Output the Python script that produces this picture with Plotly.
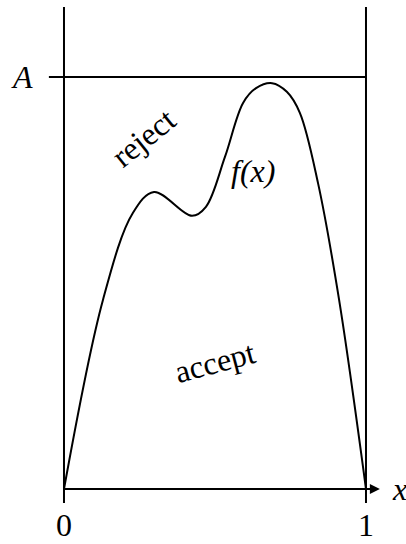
import plotly.graph_objects as go

# Target density f(x) sampled along [0, 1]
x_vals = [0.0, 0.129, 0.228, 0.298, 0.424, 0.470, 0.533, 0.593, 0.636, 0.689,
          0.738, 0.781, 0.841, 0.911, 1.0]
f_vals = [0.0, 0.459, 0.670, 0.721, 0.663, 0.685, 0.806, 0.937, 0.973, 0.985,
          0.964, 0.913, 0.743, 0.459, 0.0]

# Envelope height and axis labels
A_level = 1.0
x_tick_vals = [0, 1]
x_tick_labels = ["0", "1"]

FONT = "Liberation Serif"
FS = 32
INK = "black"
LW = 2.0

fig = go.Figure()

fig.add_trace(go.Scatter(
    x=x_vals, y=f_vals, mode="lines",
    line=dict(color=INK, width=LW, shape="spline", smoothing=1.0),
    hoverinfo="skip", showlegend=False,
))

# Bounding box: verticals at x=0 and x=1, envelope at A, baseline
fig.add_shape(type="line", x0=0, x1=0, y0=-0.034, y1=1.170, line=dict(color=INK, width=LW))
fig.add_shape(type="line", x0=1, x1=1, y0=-0.034, y1=1.170, line=dict(color=INK, width=LW))
fig.add_shape(type="line", x0=-0.050, x1=1, y0=A_level, y1=A_level, line=dict(color=INK, width=LW))
fig.add_shape(type="line", x0=0, x1=1.035, y0=0, y1=0, line=dict(color=INK, width=LW))

# Arrow head on the x axis
fig.add_annotation(x=1.046, y=0, ax=1.0, ay=0, xref="x", yref="y", axref="x", ayref="y",
                   showarrow=True, arrowhead=2, arrowsize=1.0, arrowwidth=LW,
                   arrowcolor=INK, text="")

def label(x, y, text, italic=False, angle=0, xanchor="center", yanchor="middle"):
    fig.add_annotation(x=x, y=y, xref="x", yref="y", text=text, showarrow=False,
                       textangle=angle, xanchor=xanchor, yanchor=yanchor, borderpad=0,
                       font=dict(family=FONT, size=FS, color=INK,
                                 style="italic" if italic else "normal"))

for xv, txt in zip(x_tick_vals, x_tick_labels):
    label(xv, -0.1330, txt, yanchor="bottom")

label(-0.139, A_level, "A", italic=True)
label(1.112, 0.0, "x", italic=True)
label(0.626, 0.772, "f(x)", italic=True)
label(0.262, 0.852, "reject", angle=-39)
label(0.500, 0.308, "accept", angle=-15)

fig.update_layout(
    width=406, height=544,
    margin=dict(l=0, r=0, t=0, b=0),
    paper_bgcolor="white", plot_bgcolor="white",
    xaxis=dict(range=[-0.2119, 1.1325], visible=False, fixedrange=True),
    yaxis=dict(range=[-0.1335, 1.1869], visible=False, fixedrange=True),
    showlegend=False,
)

fig.write_html("out.html")
